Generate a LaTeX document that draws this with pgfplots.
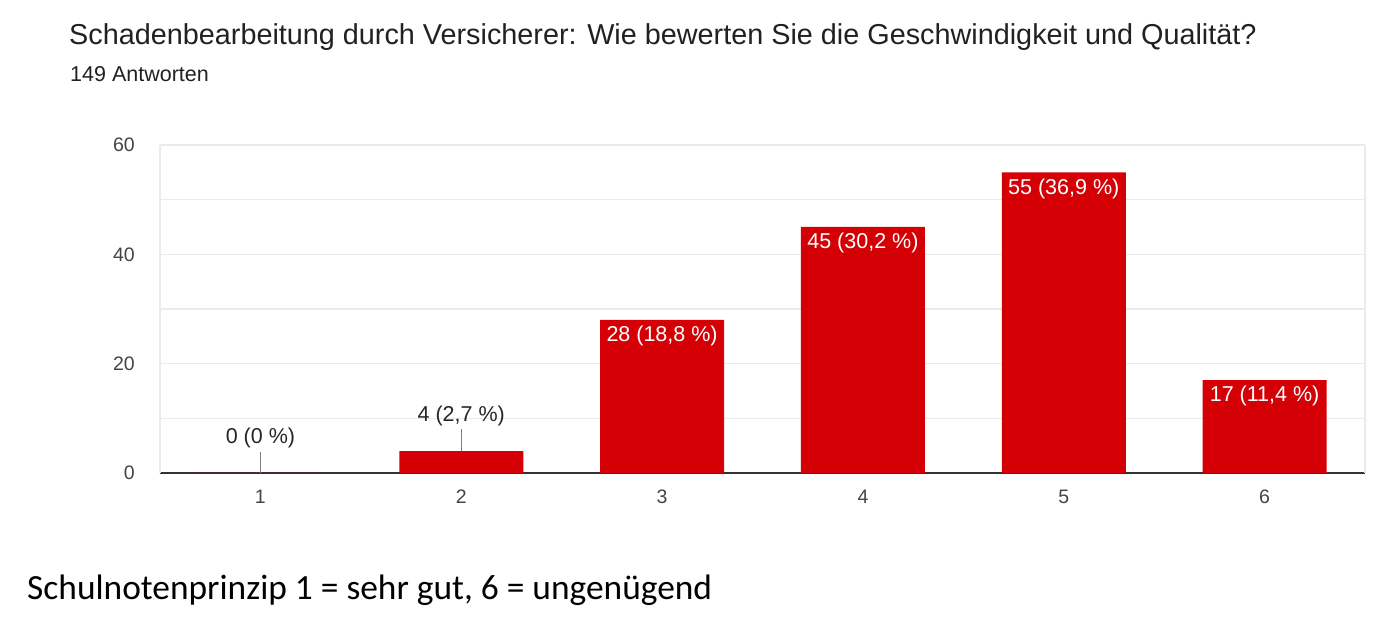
\documentclass[border=0pt]{standalone}
\usepackage{pgfplots}
\pgfplotsset{compat=1.18}
\usepackage{fontspec}
\setmainfont{Liberation Sans}
\newfontfamily\calibri{Carlito}
\definecolor{barred}{RGB}{212,0,6}
\definecolor{gridc}{RGB}{235,235,235}
\definecolor{ticktext}{RGB}{68,68,68}
\definecolor{titletext}{RGB}{32,33,36}
\definecolor{darkaxis}{RGB}{51,51,51}
\begin{document}
\begin{tikzpicture}[x=1bp,y=1bp]
\path[use as bounding box] (0,0) rectangle (1393,640);
\node[anchor=base west, inner sep=0pt, text=titletext] at (69,595) {\fontsize{28.8bp}{32bp}\selectfont Schadenbearbeitung durch Versicherer: Wie bewerten Sie die Geschwindigkeit und Qualität?};
\node[anchor=base west, inner sep=0pt, text=titletext] at (70,558) {\fontsize{21.5bp}{26bp}\selectfont 149 Antworten};
\node[anchor=base west, inner sep=0pt, text=black] at (27,40) {\calibri\fontsize{35.4bp}{40bp}\selectfont Schulnotenprinzip 1 = sehr gut, 6 = ungenügend};
\begin{axis}[
  at={(160bp,167bp)}, anchor=south west,
  scale only axis, width=1205bp, height=328bp,
  xmin=0.5, xmax=6.5, ymin=0, ymax=60,
  ybar, bar width=124bp, bar shift=0pt,
  axis y line*=left,
  axis x line*=bottom,
  y axis line style={-, draw=gridc, line width=1.3bp},
  x axis line style={-, draw=darkaxis, line width=2.5bp},
  xtick={1,2,3,4,5,6},
  ytick={0,20,40,60}, minor ytick={10,30,50},
  ymajorgrids, yminorgrids,
  major grid style={draw=gridc, line width=1.3bp},
  minor grid style={draw=gridc, line width=1.3bp},
  extra x ticks={6.5}, extra x tick labels={},
  extra x tick style={xmajorgrids, major grid style={draw=gridc, line width=1.3bp}},
  major tick length=0pt, minor tick length=0pt,
  tick style={draw=none},
  /pgf/number format/assume math mode=true,
  ticklabel style={font=\fontsize{19.5bp}{22bp}\selectfont, text=ticktext},
  yticklabel style={anchor=east, inner sep=0pt, xshift=-25bp},
  xticklabel style={anchor=north, inner sep=0pt, yshift=-17bp},
  clip=false,
]
\addplot[fill=barred, draw=none] coordinates {(1,0) (2,4) (3,28) (4,45) (5,55) (6,17)};
\addplot[draw=none, fill=none, nodes near coords, point meta=explicit symbolic,
  every node near coord/.append style={anchor=north, inner sep=0pt, yshift=-6bp, text=white, font=\fontsize{21.5bp}{24bp}\selectfont}]
  table[meta=label] {
x y label
3 28 {28 (18,8 \%)}
4 45 {45 (30,2 \%)}
5 55 {55 (36,9 \%)}
6 17 {17 (11,4 \%)}
};
\addplot[draw=none, fill=none, nodes near coords, point meta=explicit symbolic,
  every node near coord/.append style={anchor=south, inner sep=0pt, yshift=25bp, text=black!85, font=\fontsize{21.5bp}{24bp}\selectfont},
  error bars/.cd, y dir=plus, y explicit, error mark=none,
  error bar style={draw=gray, line width=1.3bp}]
  table[meta=label, y error=e] {
x y e label
1 0 3.9 {0 (0 \%)}
2 4 4.0 {4 (2,7 \%)}
};
\end{axis}
\end{tikzpicture}
\end{document}
